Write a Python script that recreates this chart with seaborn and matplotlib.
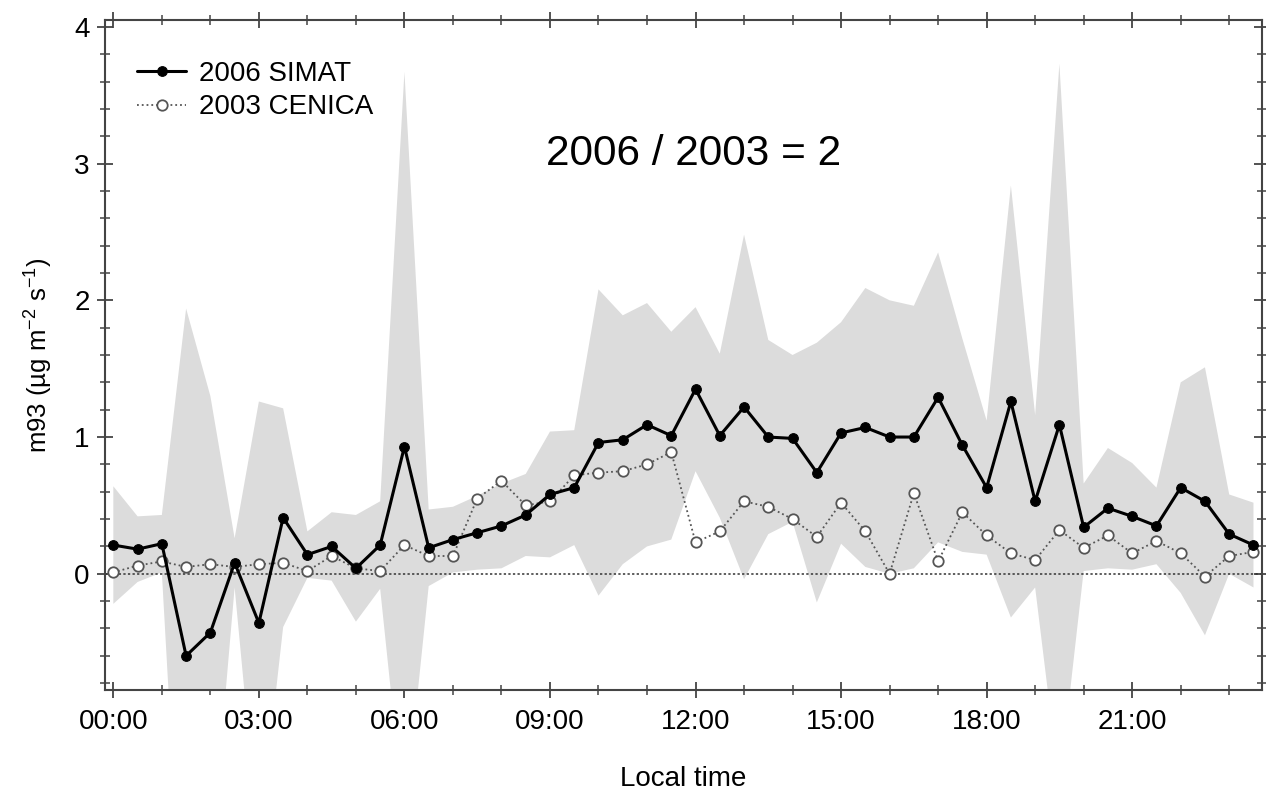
import numpy as np
import matplotlib
matplotlib.use('Agg')
import matplotlib.pyplot as plt
import seaborn as sns
from matplotlib.ticker import MultipleLocator, FuncFormatter

# Local time in hours (half-hourly)
hours = [0.0, 0.5, 1.0, 1.5, 2.0, 2.5, 3.0, 3.5, 4.0, 4.5, 5.0, 5.5,
         6.0, 6.5, 7.0, 7.5, 8.0, 8.5, 9.0, 9.5, 10.0, 10.5, 11.0, 11.5,
         12.0, 12.5, 13.0, 13.5, 14.0, 14.5, 15.0, 15.5, 16.0, 16.5, 17.0, 17.5,
         18.0, 18.5, 19.0, 19.5, 20.0, 20.5, 21.0, 21.5, 22.0, 22.5, 23.0, 23.5]

# 2006 SIMAT mean flux
simat = [0.21, 0.18, 0.22, -0.60, -0.43, 0.08, -0.36, 0.41, 0.14, 0.20, 0.04, 0.21,
         0.93, 0.19, 0.25, 0.30, 0.35, 0.43, 0.58, 0.63, 0.96, 0.98, 1.09, 1.01,
         1.35, 1.01, 1.22, 1.00, 0.99, 0.74, 1.03, 1.07, 1.00, 1.00, 1.29, 0.94,
         0.63, 1.26, 0.53, 1.09, 0.34, 0.48, 0.42, 0.35, 0.63, 0.53, 0.29, 0.21]

# 2006 SIMAT standard deviation (grey band)
simat_sd = [0.43, 0.24, 0.21, 2.54, 1.73, 0.18, 1.62, 0.80, 0.17, 0.25, 0.39, 0.32,
            2.74, 0.28, 0.24, 0.27, 0.31, 0.30, 0.46, 0.42, 1.12, 0.91, 0.89, 0.76,
            0.60, 0.60, 1.26, 0.71, 0.61, 0.95, 0.81, 1.02, 1.00, 0.96, 1.06, 0.78,
            0.49, 1.58, 0.63, 2.64, 0.32, 0.44, 0.39, 0.28, 0.77, 0.98, 0.29, 0.31]

# 2003 CENICA mean flux
cenica = [0.01, 0.06, 0.09, 0.05, 0.07, 0.05, 0.07, 0.08, 0.02, 0.13, 0.04, 0.02,
          0.21, 0.13, 0.13, 0.55, 0.68, 0.50, 0.53, 0.72, 0.74, 0.75, 0.80, 0.89,
          0.23, 0.31, 0.53, 0.49, 0.40, 0.27, 0.52, 0.31, 0.00, 0.59, 0.09, 0.45,
          0.28, 0.15, 0.10, 0.32, 0.19, 0.28, 0.15, 0.24, 0.15, -0.02, 0.13, 0.16]

sns.set_style('ticks')
plt.rcParams['font.family'] = ['Liberation Sans', 'DejaVu Sans']
plt.rcParams['mathtext.default'] = 'regular'
plt.rcParams['text.color'] = 'black'
plt.rcParams['axes.labelcolor'] = 'black'

fig = plt.figure(figsize=(12.66, 8), dpi=100)
ax = fig.add_axes([0.083, 0.1375, 0.914, 0.8375])

h = np.array(hours)
m = np.array(simat)
s = np.array(simat_sd)
ax.fill_between(h, m - s, m + s, color='#dcdcdc', lw=0, zorder=1)
ax.axhline(0, color='#333333', lw=1.1, ls=(0, (1.5, 1.5)), zorder=2)

sns.lineplot(x=hours, y=simat, ax=ax, color='black', lw=2.2, marker='o',
             markersize=7, markeredgecolor='black', label='2006 SIMAT', zorder=4)
sns.lineplot(x=hours, y=cenica, ax=ax, color='#555555', lw=1.3, linestyle=':',
             marker='o', markersize=7.5, markerfacecolor='white',
             markeredgecolor='#555555', markeredgewidth=1.3,
             label='2003 CENICA', zorder=3)

ax.set_xlim(-0.17, 23.68)
ax.set_ylim(-0.85, 4.05)

ax.xaxis.set_major_locator(MultipleLocator(3))
ax.xaxis.set_minor_locator(MultipleLocator(1))
ax.yaxis.set_major_locator(MultipleLocator(1))
ax.yaxis.set_minor_locator(MultipleLocator(0.2))
ax.xaxis.set_major_formatter(FuncFormatter(lambda v, p: f"{int(round(v)):02d}:00"))
ax.yaxis.set_major_formatter(FuncFormatter(lambda v, p: f"{int(round(v))}"))

ax.tick_params(which='both', direction='inout', top=True, right=True,
               color='#444444', labelsize=20, labelcolor='black')
ax.tick_params(which='major', length=12, width=1.3)
ax.tick_params(axis='x', which='major', pad=8)
ax.tick_params(axis='y', which='major', pad=5)
ax.tick_params(which='minor', length=7, width=1.1)

for sp in ax.spines.values():
    sp.set_color('#444444')
    sp.set_linewidth(1.5)

ax.set_xlabel('Local time', fontsize=20, labelpad=22)
ax.set_ylabel('m93 (µg m$^{-2}$ s$^{-1}$)', fontsize=18.5, labelpad=14)

leg = ax.legend(loc='upper left', bbox_to_anchor=(0.028, 0.939), frameon=False,
                fontsize=20, handlelength=1.75, handletextpad=0.47, labelspacing=0.27,
                borderpad=0, borderaxespad=0)
for t in leg.get_texts():
    t.set_color('black')

ax.text(0.509, 0.80, '2006 / 2003 = 2', transform=ax.transAxes,
        ha='center', va='center', fontsize=30.5, color='black')

fig.savefig('out.png', dpi=100)
